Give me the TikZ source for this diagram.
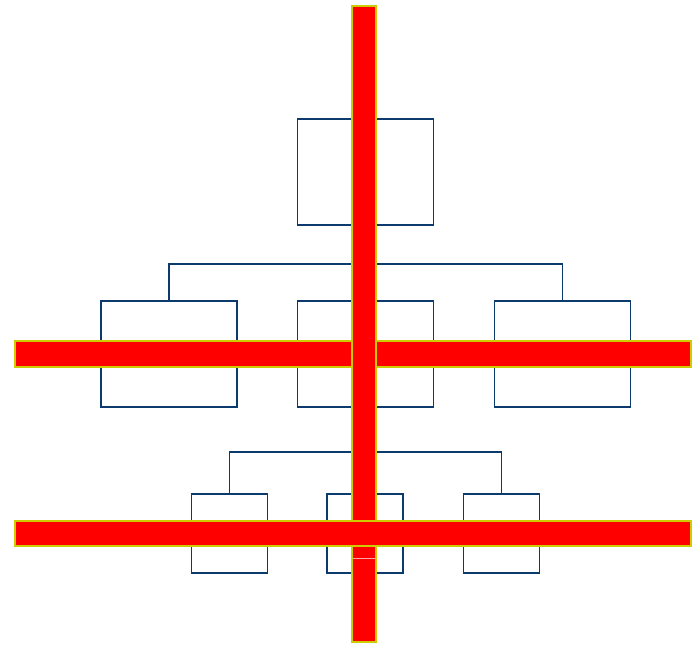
\documentclass[tikz,border=0pt]{standalone}
\usetikzlibrary{positioning}
\definecolor{orgnavy}{HTML}{0B3A6C}
\definecolor{baryellow}{HTML}{CCCC00}
\definecolor{barred}{HTML}{FF0000}

\begin{document}
\begin{tikzpicture}[x=1pt, y=-1pt,
    orgbox/.style={draw=orgnavy, line width=1.9pt, fill=white, inner sep=0pt, minimum width=136pt, minimum height=106pt},
    smallbox/.style={orgbox, minimum width=76pt, minimum height=79pt},
    orgline/.style={draw=orgnavy, line width=1.9pt},
    crossbar/.style={fill=barred, draw=baryellow, line width=2pt}]
    \useasboundingbox (0,0) rectangle (693,645);
    % top level
    \node[orgbox] (chief) at (365.5, 172) {};
    % middle level
    \node[orgbox] (midleft) at (169, 354) {};
    \node[orgbox] (midcenter) at (365.5, 354) {};
    \node[orgbox] (midright) at (562.5, 354) {};
    % bottom level
    \node[smallbox] (lowleft) at (229.5, 533.5) {};
    \node[smallbox] (lowcenter) at (365, 533.5) {};
    \node[smallbox] (lowright) at (501.5, 533.5) {};
    % connectors
    \draw[orgline] (chief.south) -- ++(0,38) coordinate (split1);
    \draw[orgline] (split1) -| (midleft.north);
    \draw[orgline] (split1) -| (midright.north);
    \draw[orgline] (split1) -- (midcenter.north);
    \draw[orgline] (midcenter.south) -- ++(0,44) coordinate (split2);
    \draw[orgline] (split2) -| (lowleft.north);
    \draw[orgline] (split2) -| (lowright.north);
    \draw[orgline] (split2) -- (lowcenter.north);
    % red bars
    \filldraw[crossbar] (15, 341) rectangle (690.5, 366.5);
    \filldraw[crossbar] (351.5, 6) rectangle (376, 641.5);
    \filldraw[crossbar] (15, 521) rectangle (690.5, 546);
    \draw[red!35, line width=0.6pt] (352.5, 558) -- (375, 558);
\end{tikzpicture}
\end{document}
